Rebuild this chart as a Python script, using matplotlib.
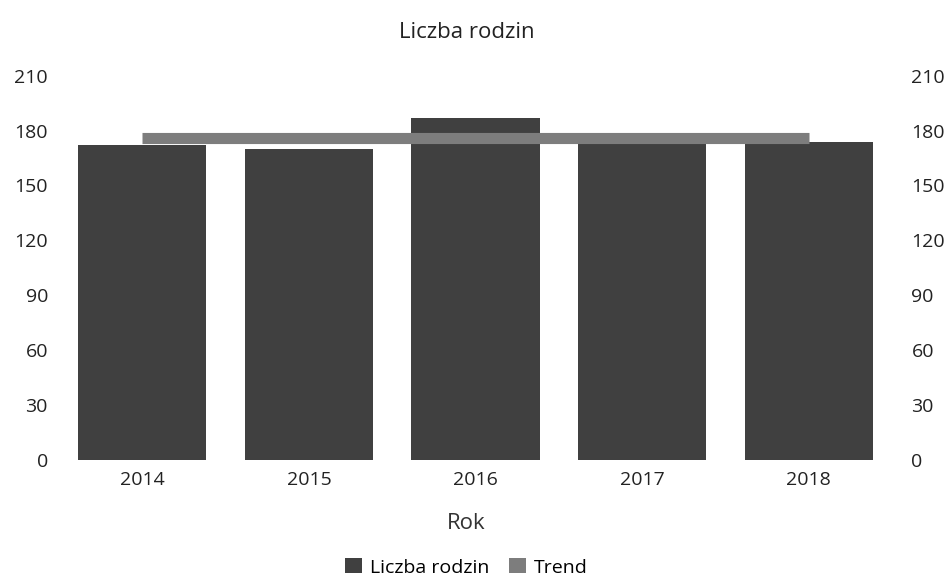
import matplotlib
matplotlib.use("Agg")
import matplotlib.pyplot as plt
from matplotlib.patches import Patch

plt.rcParams['font.family'] = ['Open Sans', 'DejaVu Sans']

years = ["2014", "2015", "2016", "2017", "2018"]
families = [172, 170, 187, 178, 174]
trend = [176, 176, 176, 176, 176]
yticks = [0, 30, 60, 90, 120, 150, 180, 210]

fig = plt.figure(figsize=(9.52, 5.82), dpi=100)
ax = fig.add_axes([0.062, 0.21, 0.875, 0.66])
x = list(range(len(years)))
ax.bar(x, families, width=0.77, color="#404040", zorder=2)
ax.plot(x, trend, color="#7d7d7d", linewidth=8, solid_capstyle="butt", zorder=3)

ax.set_xlim(-0.5, 4.5)
ax.set_ylim(0, 210)
ax.set_yticks(yticks)
ax.set_xticks(x)
ax.set_xticklabels(years)
ax.tick_params(axis="both", length=0, labelsize=14, colors="#222222")
ax.tick_params(axis="y", pad=8)
ax.tick_params(axis="x", pad=8)
for s in ax.spines.values():
    s.set_visible(False)

ax2 = ax.twinx()
ax2.set_ylim(0, 210)
ax2.set_yticks(yticks)
ax2.tick_params(axis="y", length=0, labelsize=14, pad=14, colors="#222222")
for s in ax2.spines.values():
    s.set_visible(False)

fig.text(0.49, 0.945, "Liczba rodzin", ha="center", va="center", fontsize=16, color="#222222")
fig.text(0.49, 0.10, "Rok", ha="center", va="center", fontsize=16, color="#333333")

handles = [Patch(facecolor="#404040", label="Liczba rodzin"),
           Patch(facecolor="#7d7d7d", label="Trend")]
fig.legend(handles=handles, loc="center", bbox_to_anchor=(0.49, 0.025), ncol=2,
           frameon=False, fontsize=14, handlelength=0.9, handleheight=0.8,
           handletextpad=0.4, columnspacing=1.0)

fig.savefig("out.png", dpi=100)
